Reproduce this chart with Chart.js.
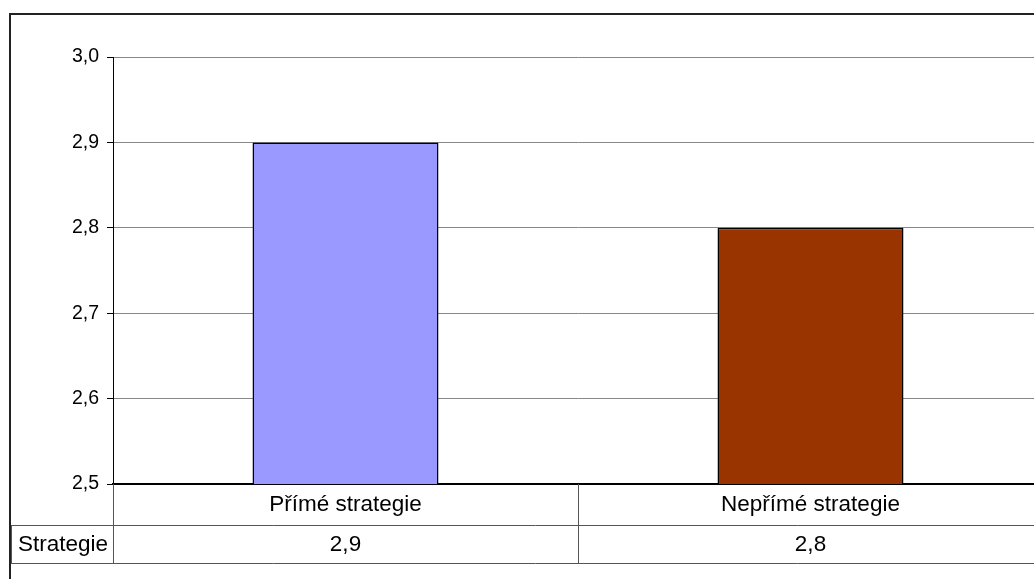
<!DOCTYPE html>
<html><head><meta charset="utf-8">
<script src="https://cdn.jsdelivr.net/npm/chart.js@4/dist/chart.umd.min.js"></script>
<style>html,body{margin:0;padding:0;overflow:hidden;background:#fff;width:1034px;height:579px}canvas{display:block}</style>
</head><body>
<canvas id="c" width="1060" height="600"></canvas>
<script>
const categories = ['Přímé strategie', 'Nepřímé strategie'];
const seriesName = 'Strategie';
const values = [2.9, 2.8];
const barColors = ['#9999FF', '#993300'];
const yMin = 2.5, yMax = 3.0, yStep = 0.1;
const fmt = v => Number(v).toFixed(1).replace('.', ',');

const tablePlugin = {
  id: 'tablePlugin',
  afterDraw(chart) {
    const ctx = chart.ctx, ca = chart.chartArea, xs = chart.scales.x;
    const W = chart.width, H = chart.height;
    const top = ca.bottom, r1 = ca.bottom + 41, r2 = ca.bottom + 79;
    const n = categories.length, cw = (ca.right - ca.left) / n;
    ctx.save();
    ctx.fillStyle = '#222';
    ctx.fillRect(9, 13, W, 2);
    ctx.fillRect(9, 13, 2, H);
    ctx.strokeStyle = '#555'; ctx.lineWidth = 1;
    ctx.beginPath();
    ctx.moveTo(11, r1 + 0.5); ctx.lineTo(W, r1 + 0.5);
    ctx.moveTo(11, r2 + 0.5); ctx.lineTo(W, r2 + 0.5);
    ctx.moveTo(11.5, r1); ctx.lineTo(11.5, r2);
    for (let k = 0; k <= n; k++) {
      const px = Math.round(ca.left + k * cw) + 0.5;
      ctx.moveTo(px, top); ctx.lineTo(px, r2);
    }
    ctx.stroke();
    ctx.fillStyle = '#000';
    ctx.font = '22.5px "Liberation Sans", Arial, sans-serif';
    ctx.textAlign = 'center'; ctx.textBaseline = 'middle';
    const mid = (r1 + r2) / 2 + 1;
    ctx.fillText(seriesName, (11 + ca.left) / 2 + 1, mid);
    values.forEach((v, i) => ctx.fillText(fmt(v), xs.getPixelForValue(i), mid));
    ctx.restore();
  }
};

new Chart(document.getElementById('c'), {
  type: 'bar',
  data: {
    labels: categories,
    datasets: [{
      label: seriesName, data: values,
      backgroundColor: barColors, borderColor: '#000', borderWidth: 1.5,
      barPercentage: 0.4, categoryPercentage: 1
    }]
  },
  options: {
    responsive: false, devicePixelRatio: 1, animation: false,
    layout: { padding: { left: 0, top: 57, right: 17, bottom: 0 } },
    plugins: { legend: { display: false }, tooltip: { enabled: false } },
    scales: {
      x: {
        grid: { display: false, drawTicks: false },
        border: { color: '#000', width: 2 },
        ticks: { padding: 7, color: '#000', font: { family: '"Liberation Sans", Arial, sans-serif', size: 22.5 } },
        afterFit(s) { s.height = 116; }
      },
      y: {
        min: yMin, max: yMax,
        ticks: { stepSize: yStep, callback: v => fmt(v), padding: 8, color: '#000', font: { family: '"Liberation Sans", Arial, sans-serif', size: 19.5 } },
        grid: { color: '#888', tickColor: '#000', tickLength: 6 },
        border: { color: '#000', width: 1 },
        afterFit(s) { s.width = 113; }
      }
    }
  },
  plugins: [tablePlugin]
});
</script>
</body></html>
